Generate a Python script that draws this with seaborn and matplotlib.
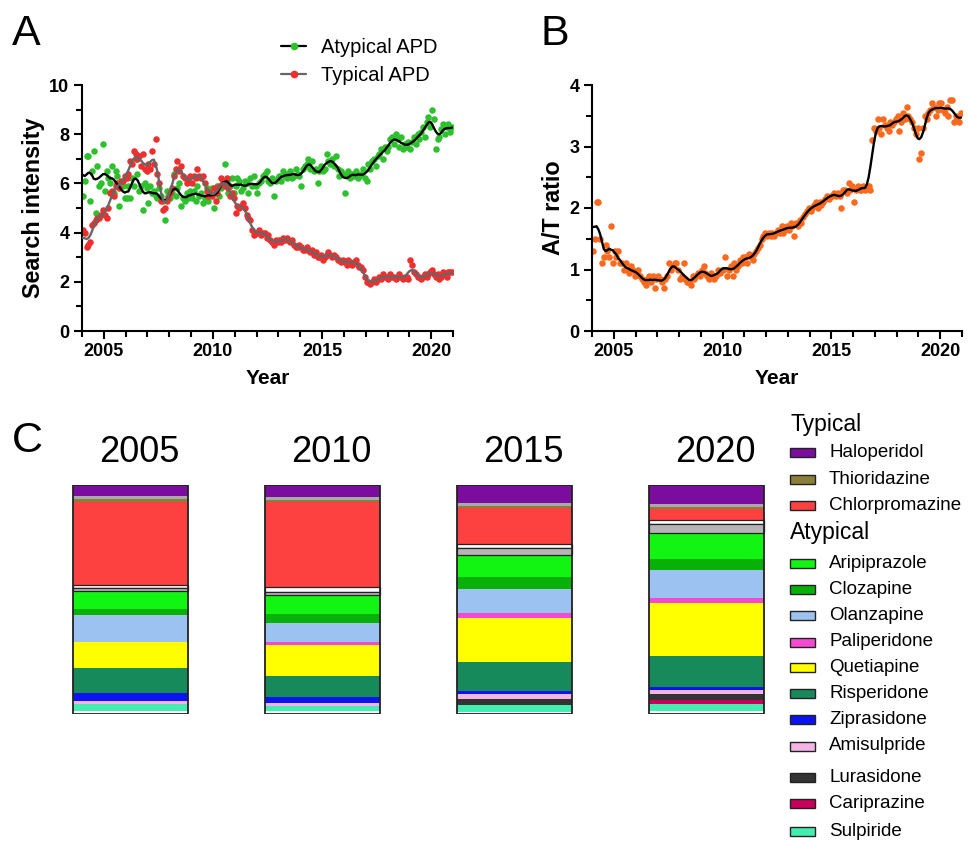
import numpy as np
import pandas as pd
import matplotlib
matplotlib.use("Agg")
import matplotlib.pyplot as plt
import matplotlib.transforms as mtransforms
from matplotlib.lines import Line2D
from matplotlib.patches import Rectangle
from matplotlib.ticker import MultipleLocator
import seaborn as sns

# ---------------- DATA ----------------
years = list(range(2004, 2021))

typical_apd = [
    4.1, 4.0, 3.4, 3.5, 3.6, 4.3, 4.4, 4.5, 4.6, 4.6, 4.7, 4.9,   # 2004
    4.7, 4.6, 5.0, 5.6, 5.7, 5.5, 5.9, 6.0, 5.8, 6.1, 6.1, 6.3,   # 2005
    6.2, 6.4, 6.9, 6.8, 7.3, 7.2, 7.0, 7.1, 6.7, 7.2, 6.6, 6.5,   # 2006
    6.8, 6.6, 7.3, 6.8, 7.8, 6.4, 6.0, 5.3, 4.9, 5.0, 5.3, 5.4,   # 2007
    5.6, 5.8, 6.3, 6.6, 6.9, 6.5, 6.7, 6.3, 6.2, 6.0, 6.1, 6.3,   # 2008
    6.0, 6.3, 6.2, 6.6, 6.3, 6.2, 6.3, 6.0, 5.7, 5.5, 5.6, 5.5,   # 2009
    5.8, 5.3, 5.6, 5.9, 6.2, 6.1, 5.9, 6.2, 5.8, 5.5, 5.6, 5.4,   # 2010
    4.8, 5.1, 5.0, 5.1, 5.2, 5.0, 4.7, 4.6, 4.5, 4.1, 3.9, 4.0,   # 2011
    4.0, 4.1, 3.9, 4.0, 4.0, 3.8, 3.9, 3.7, 3.6, 3.5, 3.7, 3.6,   # 2012
    3.7, 3.6, 3.8, 3.7, 3.8, 3.7, 3.6, 3.7, 3.5, 3.4, 3.4, 3.5,   # 2013
    3.4, 3.3, 3.3, 3.4, 3.3, 3.2, 3.3, 3.1, 3.2, 3.0, 3.0, 3.1,   # 2014
    2.9, 3.0, 3.1, 3.2, 3.1, 3.0, 3.1, 3.0, 2.9, 2.9, 2.8, 2.9,   # 2015
    2.8, 2.7, 2.9, 2.8, 2.7, 2.8, 2.9, 2.7, 2.6, 2.6, 2.5, 2.2,   # 2016
    2.0, 2.0, 1.9, 2.0, 2.1, 2.0, 2.1, 2.2, 2.1, 2.3, 2.2, 2.2,   # 2017
    2.1, 2.3, 2.2, 2.2, 2.1, 2.2, 2.3, 2.2, 2.1, 2.2, 2.2, 2.1,   # 2018
    2.9, 2.7, 2.4, 2.3, 2.2, 2.2, 2.1, 2.2, 2.3, 2.2, 2.3, 2.4,   # 2019
    2.5, 2.3, 2.2, 2.3, 2.1, 2.2, 2.4, 2.3, 2.2, 2.4, 2.4, 2.4,   # 2020
]

atypical_apd = [
    5.5, 6.1, 7.1, 7.1, 5.3, 6.5, 7.3, 4.8, 6.7, 5.9, 6.0, 7.6,   # 2004
    5.7, 6.5, 6.2, 6.0, 6.7, 5.6, 6.5, 6.3, 5.1, 6.0, 5.9, 5.4,   # 2005
    5.4, 5.9, 5.4, 6.2, 5.9, 7.0, 6.4, 5.7, 5.9, 4.9, 6.0, 5.8,   # 2006
    5.2, 5.9, 5.6, 5.7, 5.5, 5.4, 5.8, 5.5, 5.3, 4.5, 5.7, 5.5,   # 2007
    5.4, 5.6, 6.4, 5.5, 5.8, 6.0, 5.1, 5.4, 5.3, 5.6, 5.4, 5.7,   # 2008
    5.4, 5.7, 5.3, 5.9, 5.5, 5.6, 5.2, 5.4, 5.8, 5.3, 5.6, 5.8,   # 2009
    5.0, 5.6, 5.9, 5.5, 5.8, 6.0, 6.8, 6.1, 5.6, 5.9, 6.2, 5.6,   # 2010
    5.9, 6.2, 6.1, 5.7, 5.8, 6.1, 6.0, 5.6, 6.2, 5.9, 6.3, 5.9,   # 2011
    5.6, 6.0, 6.1, 6.3, 6.4, 6.5, 6.1, 6.0, 6.2, 5.5, 6.1, 6.2,   # 2012
    6.3, 6.1, 6.5, 6.3, 6.2, 6.4, 6.5, 6.2, 6.3, 6.6, 6.4, 6.3,   # 2013
    5.9, 6.6, 6.7, 6.8, 7.0, 6.6, 6.9, 6.5, 6.6, 6.0, 6.5, 6.7,   # 2014
    6.5, 6.6, 7.2, 6.9, 6.8, 7.0, 6.7, 7.1, 6.6, 6.3, 6.5, 6.4,   # 2015
    5.6, 6.3, 6.5, 6.2, 6.4, 6.3, 6.5, 6.2, 6.3, 6.4, 6.6, 6.2,   # 2016
    6.1, 6.8, 6.6, 6.9, 7.0, 6.7, 7.1, 7.2, 7.4, 7.0, 7.5, 7.3,   # 2017
    7.5, 7.8, 7.9, 7.6, 8.0, 7.8, 7.5, 7.9, 7.4, 7.6, 7.5, 7.7,   # 2018
    7.4, 7.7, 7.9, 7.6, 8.0, 7.8, 8.1, 8.3, 7.9, 8.5, 8.7, 8.3,   # 2019
    9.0, 8.6, 7.4, 7.8, 7.9, 8.2, 8.4, 8.0, 8.3, 8.4, 8.1, 8.3,   # 2020
]

at_ratio = [
    1.3, 1.5, 2.1, 2.1, 1.5, 1.1, 1.2, 1.4, 1.3, 1.2, 1.7, 1.1,          # 2004
    1.3, 1.2, 1.3, 1.1, 1.1, 1.0, 1.1, 1.0, 0.95, 1.05, 1.0, 0.9,        # 2005
    0.95, 1.0, 0.9, 0.85, 0.8, 0.75, 0.85, 0.9, 0.8, 0.9, 0.7, 0.85,     # 2006
    0.9, 0.85, 0.8, 0.7, 0.85, 0.9, 1.1, 1.0, 1.05, 1.1, 1.1, 1.0,       # 2007
    0.85, 0.9, 1.1, 0.85, 0.8, 0.8, 0.75, 0.9, 0.85, 0.9, 0.95, 0.9,     # 2008
    1.0, 1.05, 0.95, 0.9, 0.85, 0.95, 0.9, 0.85, 0.9, 1.0, 0.95, 1.0,    # 2009
    1.0, 1.2, 0.9, 1.0, 1.05, 0.9, 1.1, 1.0, 1.05, 1.15, 1.1, 1.2,       # 2010
    1.2, 1.1, 1.25, 1.2, 1.15, 1.25, 1.3, 1.35, 1.4, 1.5, 1.55, 1.6,     # 2011
    1.55, 1.6, 1.55, 1.6, 1.55, 1.6, 1.65, 1.6, 1.7, 1.6, 1.65, 1.7,     # 2012
    1.65, 1.75, 1.7, 1.55, 1.75, 1.7, 1.8, 1.75, 1.85, 1.9, 1.95, 2.0,   # 2013
    1.95, 2.0, 2.05, 2.1, 2.0, 2.1, 2.05, 2.1, 2.15, 2.2, 2.15, 2.2,     # 2014
    2.2, 2.25, 2.2, 2.25, 2.2, 2.0, 2.3, 2.3, 2.25, 2.4, 2.3, 2.35,      # 2015
    2.1, 2.3, 2.35, 2.3, 2.3, 2.35, 2.3, 2.35, 2.35, 2.3, 3.1, 3.3,      # 2016
    3.25, 3.45, 3.3, 3.2, 3.45, 3.35, 3.3, 3.25, 3.4, 3.35, 3.4, 3.45,   # 2017
    3.5, 3.25, 3.4, 3.55, 3.45, 3.65, 3.5, 3.45, 3.4, 3.3, 3.2, 3.3,     # 2018
    2.8, 2.9, 3.3, 3.5, 3.45, 3.55, 3.6, 3.7, 3.65, 3.5, 3.6, 3.7,       # 2019
    3.7, 3.6, 3.55, 3.65, 3.5, 3.75, 3.75, 3.4, 3.5, 3.45, 3.4, 3.55,    # 2020
]

# Panel C: relative search share (top -> bottom) for each year
bar_years = ["2005", "2010", "2015", "2020"]
segments = ["Haloperidol", "Other typical", "Thioridazine", "Chlorpromazine",
            "Unassigned", "Other atypical",
            "Aripiprazole", "Clozapine", "Olanzapine", "Paliperidone", "Quetiapine",
            "Risperidone", "Ziprasidone", "Amisulpride", "Lurasidone", "Cariprazine",
            "Sulpiride", "Others"]
share_2005 = [33, 8, 9, 250, 8, 9, 53, 20, 80, 0, 77, 76, 22, 10, 0, 0, 20, 10]
share_2010 = [37, 8, 7, 253, 15, 10, 57, 26, 57, 8, 92, 65, 17, 10, 0, 0, 15, 8]
share_2015 = [55, 7, 6, 108, 12, 20, 68, 34, 73, 15, 132, 85, 10, 15, 18, 0, 22, 5]
share_2020 = [58, 8, 7, 32, 12, 26, 77, 35, 83, 15, 160, 90, 10, 12, 18, 12, 22, 8]

typical_names = ["Haloperidol", "Thioridazine", "Chlorpromazine"]
atypical_names = ["Aripiprazole", "Clozapine", "Olanzapine", "Paliperidone", "Quetiapine",
                  "Risperidone", "Ziprasidone", "Amisulpride", "Lurasidone", "Cariprazine",
                  "Sulpiride"]

colors = {
    "Haloperidol": "#7a0c9e", "Other typical": "#a9a9a9", "Thioridazine": "#8b7d3a",
    "Chlorpromazine": "#fd4040", "Unassigned": "#ffffff", "Other atypical": "#b5b5b5",
    "Aripiprazole": "#12f512", "Clozapine": "#08b008", "Olanzapine": "#9cc2f2",
    "Paliperidone": "#f44ad2", "Quetiapine": "#ffff00", "Risperidone": "#168a5b",
    "Ziprasidone": "#0a14f0", "Amisulpride": "#f5b4e6", "Lurasidone": "#333333",
    "Cariprazine": "#c8005a", "Sulpiride": "#44eeb0", "Others": "#ffffff",
}
edged = {"Unassigned", "Other atypical"}

# ---------------- STYLE ----------------
sns.set_style("ticks")
plt.rcParams["font.family"] = ["Liberation Sans", "DejaVu Sans"]
plt.rcParams.update({
    "axes.linewidth": 1.5, "text.color": "black", "axes.labelcolor": "black",
    "xtick.color": "black", "ytick.color": "black", "axes.edgecolor": "black",
})

W, H = 968, 841
fig = plt.figure(figsize=(W / 100, H / 100), dpi=100)


def fbox(l, t, r, b):
    return [l / W, 1 - b / H, (r - l) / W, (b - t) / H]


x = np.array([y + (m + 0.5) / 12 for y in years for m in range(12)])


def smooth(v):
    s = pd.Series(v).rolling(5, center=True, min_periods=1).mean()
    return s.rolling(3, center=True, min_periods=1).mean().values


def style_axis(ax, ymax, ymajor, yminor):
    ax.set_xlim(2004, 2021)
    ax.set_ylim(0, ymax)
    ax.xaxis.set_major_locator(MultipleLocator(5))
    ax.xaxis.set_minor_locator(MultipleLocator(1))
    ax.yaxis.set_major_locator(MultipleLocator(ymajor))
    ax.yaxis.set_minor_locator(MultipleLocator(yminor))
    ax.tick_params(which="major", direction="out", length=6, width=1.5,
                   labelsize=13, pad=3)
    ax.tick_params(which="minor", direction="out", length=4, width=1.5)
    for lab in ax.get_xticklabels() + ax.get_yticklabels():
        lab.set_fontweight("bold")
    sns.despine(ax=ax)
    ax.set_xlabel("Year", fontsize=15, fontweight="bold", labelpad=6)


# ---------------- PANEL A ----------------
axA = fig.add_axes(fbox(82, 85, 453, 331))
sns.scatterplot(x=x, y=atypical_apd, color="#2fc02f", s=22, linewidth=0, ax=axA,
                zorder=2)
sns.scatterplot(x=x, y=typical_apd, color="#ee2f2f", s=22, linewidth=0, ax=axA,
                zorder=2)
sns.lineplot(x=x, y=smooth(atypical_apd), color="black", linewidth=1.7, ax=axA, zorder=3)
sns.lineplot(x=x, y=smooth(typical_apd), color="#666666", linewidth=1.7, ax=axA, zorder=3)
style_axis(axA, 10, 2, 1)
axA.set_ylabel("Search intensity", fontsize=16.8, fontweight="bold", labelpad=3)
handles = [
    Line2D([], [], color="black", lw=1.6, marker="o", markersize=4.5,
           markerfacecolor="#2fc02f", markeredgecolor="#2fc02f"),
    Line2D([], [], color="#666666", lw=1.6, marker="o", markersize=4.5,
           markerfacecolor="#ee2f2f", markeredgecolor="#ee2f2f"),
]
fig.legend(handles, ["Atypical APD", "Typical APD"], loc="upper left",
           bbox_to_anchor=(281 / W, 1 - 38 / H), frameon=False, fontsize=14.5,
           handlelength=1.25, handletextpad=0.75, labelspacing=0.45,
           borderpad=0, borderaxespad=0, numpoints=1)

# ---------------- PANEL B ----------------
axB = fig.add_axes(fbox(592, 85, 962, 331))
sns.scatterplot(x=x, y=at_ratio, color="#fa6a1e", s=22, linewidth=0, ax=axB, zorder=2)
sns.lineplot(x=x, y=smooth(at_ratio), color="black", linewidth=1.7, ax=axB, zorder=3)
style_axis(axB, 4, 1, 0.5)
axB.set_ylabel("A/T ratio", fontsize=16.8, fontweight="bold", labelpad=3)

# ---------------- PANEL C ----------------
axC = fig.add_axes(fbox(34.5, 485, 802.5, 714))
shares = np.array([share_2005, share_2010, share_2015, share_2020], dtype=float)
shares = shares / shares.sum(axis=1, keepdims=True) * 100
pos = np.arange(len(bar_years))
bottom = np.zeros(len(bar_years))
bw = 0.6
for j, name in enumerate(segments):
    h = shares[:, j]
    if name in edged:
        axC.bar(pos, h, bottom=bottom, width=bw, color=colors[name],
                edgecolor="#222222", linewidth=0.9, zorder=2)
    else:
        axC.bar(pos, h, bottom=bottom, width=bw, color=colors[name],
                linewidth=0, zorder=1)
    bottom += h
axC.bar(pos, bottom, width=bw, fill=False, edgecolor="#222222", linewidth=1.3, zorder=3)
axC.set_xlim(-0.5, 3.5)
axC.set_ylim(100, 0)
axC.xaxis.tick_top()
axC.set_xticks(pos)
axC.set_xticklabels(bar_years, fontsize=26)
axC.tick_params(axis="x", length=0, pad=11)
shift = mtransforms.ScaledTranslation(9 / 100, 0, fig.dpi_scale_trans)
for lab in axC.get_xticklabels():
    lab.set_transform(lab.get_transform() + shift)
axC.set_yticks([])
for s in axC.spines.values():
    s.set_visible(False)

# Legend for panel C
axL = fig.add_axes(fbox(780, 400, 968, 841))
axL.set_xlim(780, 968)
axL.set_ylim(841, 400)
axL.axis("off")
legend_rows = [("Typical", None, 424)]
ys_typ = [452, 479, 505]
for n, yy in zip(typical_names, ys_typ):
    legend_rows.append((n, colors[n], yy))
legend_rows.append(("Atypical", None, 532))
ys_atyp = [563, 589, 615, 642, 667, 693, 719, 746, 777, 803, 831]
for n, yy in zip(atypical_names, ys_atyp):
    legend_rows.append((n, colors[n], yy))
for label, col, yy in legend_rows:
    if col is None:
        axL.text(790, yy, label, fontsize=16.5, va="center", ha="left")
    else:
        axL.add_patch(Rectangle((790, yy - 4.5), 25, 9, facecolor=col,
                                edgecolor="#222222", linewidth=1.0))
        axL.text(829, yy, label, fontsize=13.5, va="center", ha="left")

# Panel letters
fig.text(12 / W, 1 - 45 / H, "A", fontsize=31)
fig.text(541 / W, 1 - 45 / H, "B", fontsize=31)
fig.text(12 / W, 1 - 452 / H, "C", fontsize=31)

fig.savefig("out.png", dpi=100)
